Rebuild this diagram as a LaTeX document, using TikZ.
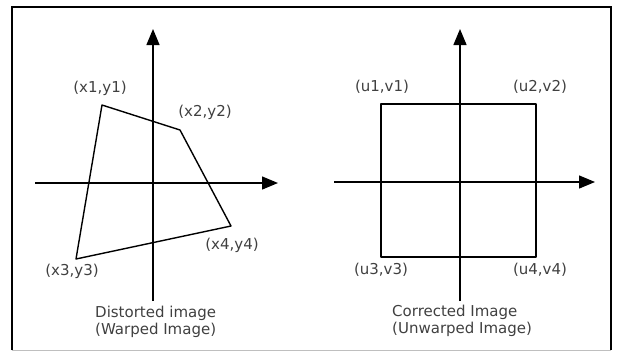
\documentclass[tikz,border=0pt]{standalone}
\usepackage{fontspec}
\setmainfont{DejaVu Sans}
\usetikzlibrary{arrows.meta,positioning}

\begin{document}
\begin{tikzpicture}[x=1pt,y=-1pt,
  axis/.style={-{Triangle[length=16pt,width=13pt]},line width=1.4pt},
  edge/.style={line width=1.4pt,line join=round},
  pt/.style={font=\fontsize{15}{17}\selectfont,text=black!75,inner sep=0pt},
  caption/.style={pt,align=left,anchor=north west}]
  \useasboundingbox (0,0) rectangle (617,354);
  % frame
  \draw[line width=1.4pt] (12,350) -- (12,7) -- (611,7) -- (611,350);
  \draw[black!25,line width=1pt] (12,350) -- (611,350);
  % distorted image
  \coordinate (lw) at (35,183);
  \coordinate (le) at (278,183);
  \coordinate (ls) at (153,301);
  \coordinate (ln) at (153,29);
  \draw[axis] (lw) -- (le);
  \draw[axis] (ls) -- (ln);
  \coordinate (p1) at (102,105);
  \coordinate (p2) at (180,130);
  \coordinate (p4) at (231,226);
  \coordinate (p3) at (76,259);
  \draw[edge] (p1) -- (p2) -- (p4) -- (p3) -- cycle;
  \node[pt] (l1) at (100,88) {(x1,y1)};
  \node[pt] (l2) at (205,112) {(x2,y2)};
  \node[pt] (l3) at (72,271) {(x3,y3)};
  \node[pt] (l4) at (232,245) {(x4,y4)};
  \node[caption] (dist) at (95,306) {Distorted image\\(Warped Image)};
  % corrected image
  \coordinate (rw) at (334,182);
  \coordinate (re) at (595,182);
  \coordinate (rs) at (460,301);
  \coordinate (rn) at (460,29);
  \draw[axis] (rw) -- (re);
  \draw[axis] (rs) -- (rn);
  \coordinate (q1) at (381,104);
  \coordinate (q2) at (536,104);
  \coordinate (q4) at (536,257);
  \coordinate (q3) at (381,257);
  \draw[edge] (q1) -- (q2) -- (q4) -- (q3) -- cycle;
  \node[pt] (m1) at (382,87) {(u1,v1)};
  \node[pt] (m2) at (540,87) {(u2,v2)};
  \node[pt] (m3) at (381,270) {(u3,v3)};
  \node[pt] (m4) at (540,270) {(u4,v4)};
  \node[caption] (corr) at (392,305) {Corrected Image\\(Unwarped Image)};
\end{tikzpicture}
\end{document}
